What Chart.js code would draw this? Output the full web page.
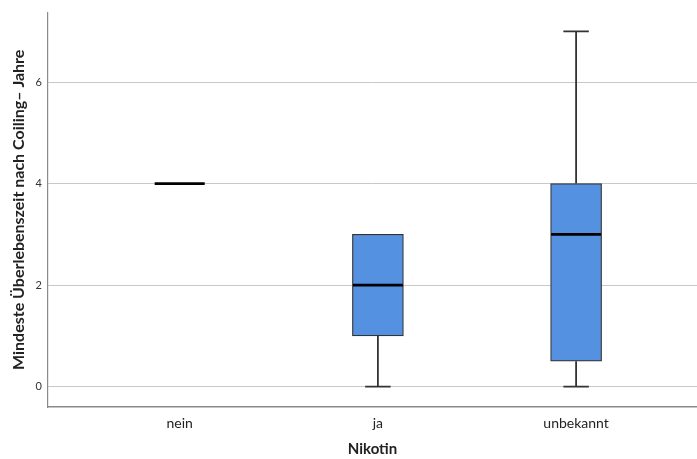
<!DOCTYPE html>
<html>
<head>
<meta charset="utf-8">
<script src="https://cdn.jsdelivr.net/npm/chart.js@4/dist/chart.umd.min.js"></script>
<style>
  html, body { margin: 0; padding: 0; background: #fff; }
  #wrap { width: 697px; height: 459px; }
</style>
</head>
<body>
<div id="wrap"><canvas id="c" width="697" height="459"></canvas></div>
<script>
// Nikotin groups and box statistics (years)
const categories = ['nein', 'ja', 'unbekannt'];
const whiskerLow  = [4, 0, 0];
const q1          = [4, 1, 0.5];
const median      = [4, 2, 3];
const q3          = [4, 3, 4];
const whiskerHigh = [4, 3, 7];
const yTicks = [0, 2, 4, 6];

const BOX_FILL = '#5591e1';
const EDGE = '#333333';
const FONT = 'Lato';

// Box bodies as floating bars; groups without spread have no box
const boxData = [];
categories.forEach((c, i) => {
  if (q1[i] !== q3[i]) boxData.push({ x: i, y: [q1[i], q3[i]] });
});

const boxPlotPlugin = {
  id: 'boxWhiskers',
  afterDatasetsDraw(chart) {
    const { ctx, scales: { x, y } } = chart;
    ctx.save();
    categories.forEach((c, i) => {
      const cx = x.getPixelForValue(i);
      const capHalf = 12.75, medHalf = 25;
      ctx.strokeStyle = EDGE;
      ctx.lineWidth = 1.8;
      // lower whisker
      if (whiskerLow[i] < q1[i]) {
        const yA = y.getPixelForValue(whiskerLow[i]);
        const yB = y.getPixelForValue(q1[i]);
        ctx.beginPath();
        ctx.moveTo(cx, yA); ctx.lineTo(cx, yB);
        ctx.moveTo(cx - capHalf, yA); ctx.lineTo(cx + capHalf, yA);
        ctx.stroke();
      }
      // upper whisker
      if (whiskerHigh[i] > q3[i]) {
        const yA = y.getPixelForValue(whiskerHigh[i]);
        const yB = y.getPixelForValue(q3[i]);
        ctx.beginPath();
        ctx.moveTo(cx, yA); ctx.lineTo(cx, yB);
        ctx.moveTo(cx - capHalf, yA); ctx.lineTo(cx + capHalf, yA);
        ctx.stroke();
      }
      // median
      const ym = y.getPixelForValue(median[i]);
      ctx.strokeStyle = '#000';
      ctx.lineWidth = 2.8;
      ctx.beginPath();
      ctx.moveTo(cx - medHalf, ym); ctx.lineTo(cx + medHalf, ym);
      ctx.stroke();
    });
    ctx.restore();
  }
};

new Chart(document.getElementById('c'), {
  type: 'bar',
  data: {
    datasets: [{
      data: boxData,
      backgroundColor: BOX_FILL,
      borderColor: EDGE,
      borderWidth: 1.2,
      borderSkipped: false,
      barThickness: 51
    }]
  },
  plugins: [boxPlotPlugin],
  options: {
    responsive: false,
    animation: false,
    layout: { padding: { top: 6, right: 0, left: 0, bottom: 0 } },
    plugins: { legend: { display: false }, tooltip: { enabled: false } },
    scales: {
      x: {
        type: 'linear',
        offset: false,
        min: -0.6645,
        max: 2.61,
        afterBuildTicks: s => { s.ticks = categories.map((c, i) => ({ value: i })); },
        afterFit: s => { s.height = 52; },
        ticks: {
          callback: v => categories[v],
          color: '#222',
          font: { family: FONT, size: 14 },
          padding: 8,
          maxRotation: 0
        },
        grid: { display: false, drawTicks: false },
        border: { display: true, color: '#8a8a8a', width: 1.5 },
        title: {
          display: true,
          text: 'Nikotin',
          color: '#222',
          font: { family: FONT, size: 15, weight: 'bold' },
          padding: { top: 2, bottom: 1 }
        }
      },
      y: {
        min: -0.403,
        max: 7.369,
        afterBuildTicks: s => { s.ticks = yTicks.map(v => ({ value: v })); },
        afterFit: s => { s.width = 48; },
        ticks: {
          color: '#333',
          font: { family: FONT, size: 11 },
          padding: 6
        },
        grid: { color: '#c8c8c8', lineWidth: 1, drawTicks: false },
        border: { display: true, color: '#8a8a8a', width: 1.2 },
        title: {
          display: true,
          text: 'Mindeste Überlebenszeit nach Coiling– Jahre',
          color: '#222',
          font: { family: FONT, size: 16, weight: 'bold' },
          padding: { top: 9, bottom: 4 }
        }
      }
    }
  }
});
</script>
</body>
</html>
